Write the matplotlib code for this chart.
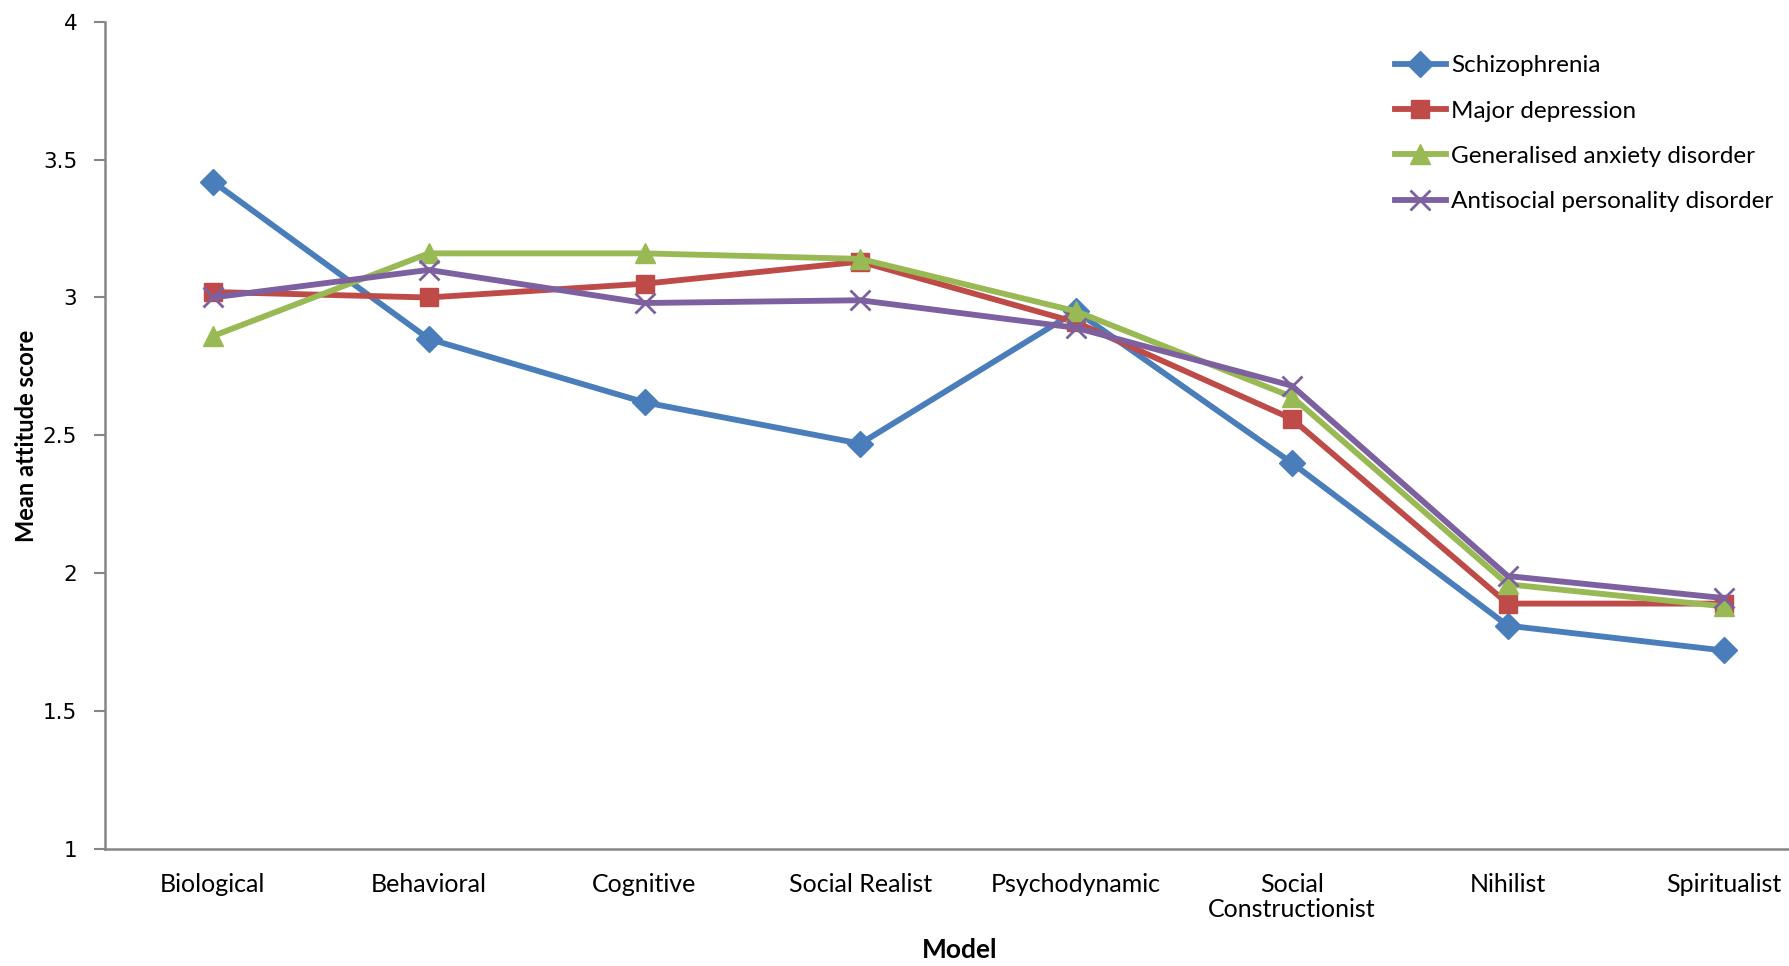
import matplotlib.pyplot as plt
import numpy as np

models = ['Biological', 'Behavioral', 'Cognitive', 'Social Realist', 'Psychodynamic',
          'Social\nConstructionist', 'Nihilist', 'Spiritualist']

schizophrenia = [3.42, 2.85, 2.62, 2.47, 2.95, 2.40, 1.81, 1.72]
major_depression = [3.02, 3.00, 3.05, 3.13, 2.91, 2.56, 1.89, 1.89]
gad = [2.86, 3.16, 3.16, 3.14, 2.95, 2.64, 1.96, 1.88]
aspd = [3.00, 3.10, 2.98, 2.99, 2.89, 2.68, 1.99, 1.91]

series = [
    ('Schizophrenia', schizophrenia, '#4A7EBB', 'D', 13),
    ('Major depression', major_depression, '#BE4B48', 's', 13),
    ('Generalised anxiety disorder', gad, '#98B954', '^', 14),
    ('Antisocial personality disorder', aspd, '#7D60A0', 'x', 14),
]

plt.rcParams['font.family'] = ['Lato', 'DejaVu Sans']

fig = plt.figure(figsize=(17.89, 9.66), dpi=100)
ax = fig.add_axes([0.0587, 0.1211, 0.965, 0.8564])

x = np.arange(len(models))
for name, vals, col, mk, ms in series:
    if mk == 'x':
        ax.plot(x, vals, color=col, lw=4.2, marker=mk, ms=ms, mew=2, label=name)
    else:
        ax.plot(x, vals, color=col, lw=4.2, marker=mk, ms=ms, mec=col, label=name)

ax.set_xlim(-0.5, 7.5)
ax.set_ylim(1, 4)
ax.set_yticks(np.arange(1, 4.01, 0.5))
ax.set_yticklabels(['1', '1.5', '2', '2.5', '3', '3.5', '4'], fontsize=15.5,
                   family='DejaVu Sans')
ax.set_xticks(x)
ax.set_xticklabels(models, fontsize=18, linespacing=1.1)
ax.tick_params(axis='x', length=0, pad=17)
ax.tick_params(axis='y', length=8, width=1.5, color='#868686', pad=12)

for side in ['top', 'right']:
    ax.spines[side].set_visible(False)
for side in ['left', 'bottom']:
    ax.spines[side].set_color('#868686')
    ax.spines[side].set_linewidth(1.8)

ax.set_ylabel('Mean attitude score', fontsize=17, fontweight='bold')
ax.yaxis.set_label_coords(-0.039, 0.5)
ax.set_xlabel('Model', fontsize=19, fontweight='bold')
ax.xaxis.set_label_coords(0.495, -0.108)

ax.legend(loc='upper left', bbox_to_anchor=(0.7345, 0.986), frameon=False, fontsize=17.5,
          handlelength=2.1, handletextpad=0.2, labelspacing=1.0)

fig.savefig('out.png', dpi=100)
